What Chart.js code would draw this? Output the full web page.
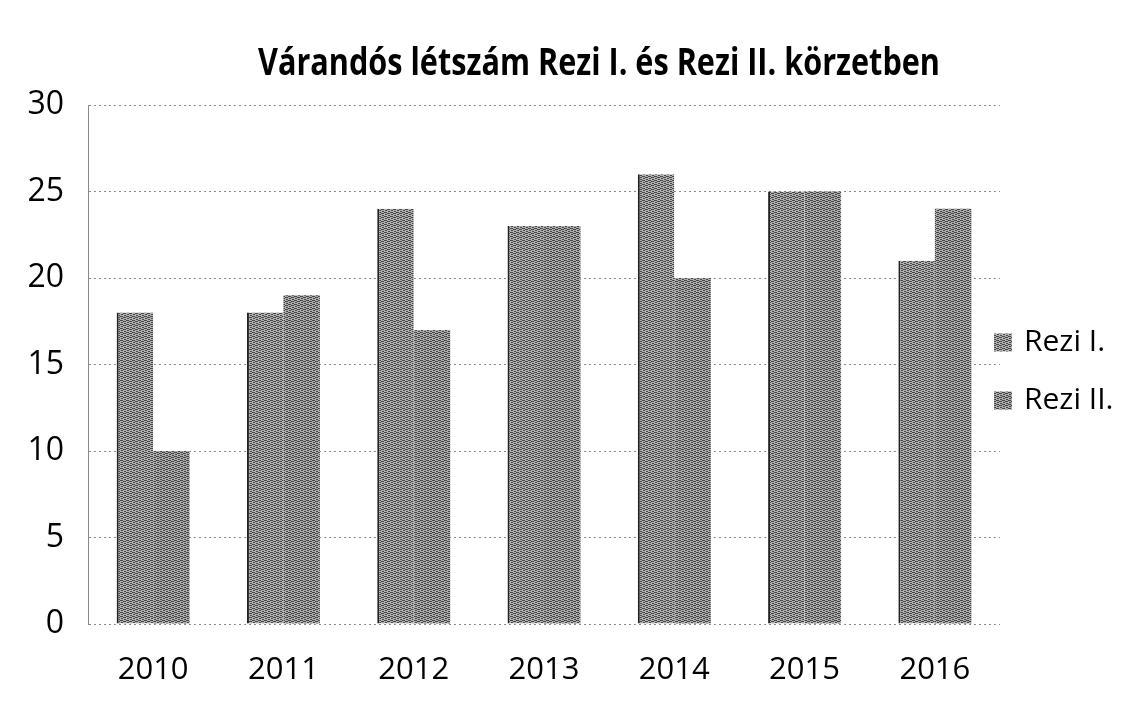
<!DOCTYPE html>
<html>
<head>
<meta charset="utf-8">
<script src="https://cdn.jsdelivr.net/npm/chart.js@4"></script>
<style>
  html, body { margin: 0; padding: 0; background: #fff; }
  #wrap { width: 1140px; height: 701px; }
</style>
</head>
<body>
<div id="wrap"><canvas id="c" width="1140" height="701"></canvas></div>
<script>
const categories = ['2010', '2011', '2012', '2013', '2014', '2015', '2016'];
const reziI = [18, 18, 24, 23, 26, 25, 21];
const reziII = [10, 19, 17, 23, 20, 25, 24];
const seriesNames = ['Rezi I.', 'Rezi II.'];
const titleText = 'Várandós létszám Rezi I. és Rezi II. körzetben';

function makePattern(bg, fg) {
  const p = document.createElement('canvas');
  p.width = 6; p.height = 4;
  const g = p.getContext('2d');
  g.fillStyle = bg; g.fillRect(0, 0, 6, 4);
  g.fillStyle = fg;
  g.fillRect(0, 0, 3, 1);
  g.fillRect(3, 1, 3, 1);
  g.fillRect(1, 2, 2, 1);
  g.fillRect(4, 3, 2, 1);
  return document.getElementById('c').getContext('2d').createPattern(p, 'repeat');
}
const pat1 = makePattern('#b0b0b0', '#484848');
const pat2 = makePattern('#acacac', '#464646');

Chart.defaults.font.family = '"Open Sans", sans-serif';
Chart.defaults.color = '#000';

const titlePlugin = {
  id: 'squeezedTitle',
  afterDraw(chart) {
    const ctx = chart.ctx;
    ctx.save();
    ctx.font = '700 38px "Open Sans", sans-serif';
    ctx.fillStyle = '#000';
    ctx.textBaseline = 'middle';
    ctx.textAlign = 'center';
    const w = ctx.measureText(titleText).width;
    const sx = 682 / w;
    ctx.translate(599, 64);
    ctx.scale(sx, 1);
    ctx.fillText(titleText, 0, 0);
    ctx.restore();
  }
};

const legendPlugin = {
  id: 'sideLegend',
  afterDraw(chart) {
    const ctx = chart.ctx;
    const ca = chart.chartArea;
    const cy = (ca.top + ca.bottom) / 2 + 7;
    ctx.save();
    ctx.font = '30px "Open Sans", sans-serif';
    ctx.textBaseline = 'middle';
    ctx.textAlign = 'left';
    chart.data.datasets.forEach((ds, i) => {
      const y = cy + (i - 0.5) * 58;
      ctx.fillStyle = ds.backgroundColor;
      ctx.fillRect(994, y - 9, 18, 18);
      ctx.fillStyle = '#000';
      ctx.fillText(ds.label, 1024, y);
    });
    ctx.restore();
  }
};

new Chart(document.getElementById('c'), {
  type: 'bar',
  data: {
    labels: categories,
    datasets: [
      { label: seriesNames[0], data: reziI, backgroundColor: pat1, borderColor: '#222', borderWidth: { left: 2 }, borderSkipped: false },
      { label: seriesNames[1], data: reziII, backgroundColor: pat2, borderWidth: 0 }
    ]
  },
  options: {
    responsive: false,
    devicePixelRatio: 1,
    animation: false,
    categoryPercentage: 0.56,
    barPercentage: 1.0,
    layout: { padding: { left: 0, right: 140, top: 105, bottom: 0 } },
    plugins: {
      title: { display: false },
      legend: { display: false },
      tooltip: { enabled: false }
    },
    scales: {
      x: {
        grid: { display: false, drawTicks: false },
        border: { display: false },
        ticks: { font: { size: 31 }, color: '#000', padding: 28 },
        afterFit(scale) { scale.height = 77; }
      },
      y: {
        min: 0, max: 30,
        ticks: { stepSize: 5, font: { size: 32 }, color: '#000', padding: 24 },
        grid: { color: '#8a8a8a', lineWidth: 1, drawTicks: false },
        border: { display: true, color: '#8a8a8a', dash: [2, 3] },
        afterFit(scale) { scale.width = 88; }
      }
    }
  },
  plugins: [titlePlugin, legendPlugin]
});
</script>
</body>
</html>
